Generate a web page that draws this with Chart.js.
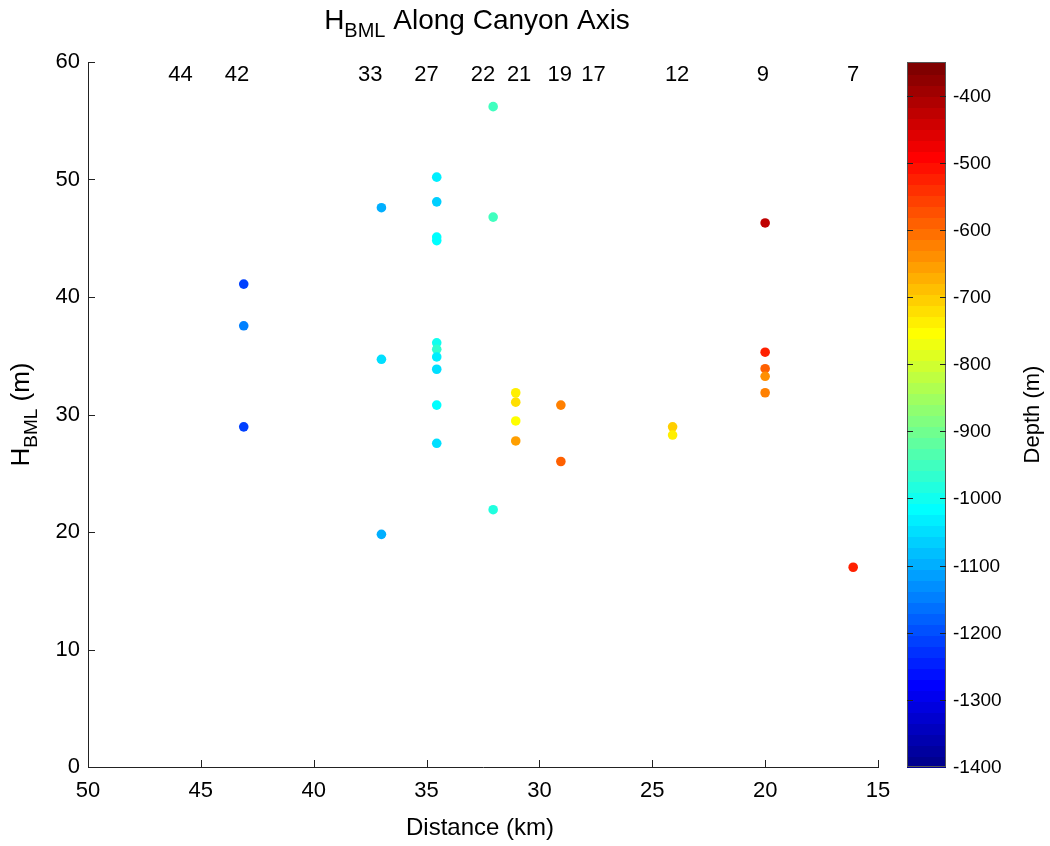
<!DOCTYPE html>
<html>
<head>
<meta charset="utf-8">
<title>HBML Along Canyon Axis</title>
<script src="https://cdn.jsdelivr.net/npm/chart.js@4.4.1/dist/chart.umd.min.js"></script>
<style>
  html, body { margin: 0; padding: 0; background: #fff; }
  #wrap { width: 1050px; height: 846px; }
</style>
</head>
<body>
<div id="wrap"><canvas id="hbmlChart" width="1050" height="846"></canvas></div>
<script>
// Bottom mixed layer thickness at each cast: along-axis distance (km), H_BML (m), cast depth (m)
const distanceKm = [
  43.1, 43.1, 43.1,
  37.0, 37.0, 37.0,
  34.55, 34.55, 34.55, 34.55, 34.55, 34.55, 34.55, 34.55, 34.55, 34.55,
  32.05, 32.05, 32.05,
  31.05, 31.05, 31.05, 31.05,
  29.05, 29.05,
  24.1, 24.1,
  20.0, 20.0, 20.0, 20.0, 20.0,
  16.1
];
const hbmlM = [
  41.1, 37.55, 28.95,
  47.6, 34.7, 19.8,
  50.2, 48.1, 45.1, 44.8, 36.1, 35.55, 34.9, 33.85, 30.8, 27.55,
  56.2, 46.8, 21.9,
  31.85, 31.05, 29.45, 27.75,
  30.8, 26.0,
  28.95, 28.25,
  46.3, 35.3, 33.9, 33.25, 31.85,
  17.0
];
const depthM = [
  -1215, -1140, -1205,
  -1100, -1055, -1095,
  -1030, -1060, -1020, -1015, -990, -970, -1030, -1055, -1010, -1055,
  -950, -950, -975,
  -736, -720, -745, -654,
  -621, -588,
  -710, -740,
  -424, -520, -588, -637, -621,
  -520
];

// Station numbers written along the top of the axes
const stationIds = ['44', '42', '33', '27', '22', '21', '19', '17', '12', '9', '7'];
const stationKm = [45.9, 43.4, 37.5, 35.0, 32.5, 30.9, 29.1, 27.6, 23.9, 20.1, 16.1];

// Colour scale for depth
const depthLimits = [-1400, -350];
const depthTicks = [-1400, -1300, -1200, -1100, -1000, -900, -800, -700, -600, -500, -400];

const FONT = "'Liberation Sans', Arial, Helvetica, sans-serif";

// MATLAB-style jet colormap with m rows
function jetColormap(m) {
  const n = Math.ceil(m / 4);
  const u = [];
  for (let k = 1; k <= n; k++) u.push(k / n);
  for (let k = 1; k < n; k++) u.push(1);
  for (let k = n; k >= 1; k--) u.push(k / n);
  const g0 = Math.ceil(n / 2) - (m % 4 === 1 ? 1 : 0);
  const map = Array.from({ length: m }, () => [0, 0, 0]);
  u.forEach((val, k) => {
    const g = g0 + k + 1;
    const r = g + n;
    const b = g - n;
    if (r <= m) map[r - 1][0] = val;
    if (g <= m) map[g - 1][1] = val;
    if (b >= 1) map[b - 1][2] = val;
  });
  return map;
}

const JET = jetColormap(64);

function rgbOf(row) {
  return 'rgb(' + row.map(v => Math.round(v * 255)).join(',') + ')';
}

function depthColor(d) {
  const [lo, hi] = depthLimits;
  let idx = Math.floor((d - lo) / (hi - lo) * JET.length);
  idx = Math.max(0, Math.min(JET.length - 1, idx));
  return rgbOf(JET[idx]);
}

// Draws text made of normal and subscript pieces, centred on x
function drawSubscripted(ctx, parts, x, y, size) {
  const subSize = Math.round(size * 0.72);
  let total = 0;
  parts.forEach(p => {
    ctx.font = (p.sub ? subSize : size) + 'px ' + FONT;
    p.w = ctx.measureText(p.text).width;
    total += p.w;
  });
  let cx = x - total / 2;
  ctx.textAlign = 'left';
  ctx.textBaseline = 'alphabetic';
  parts.forEach(p => {
    ctx.font = (p.sub ? subSize : size) + 'px ' + FONT;
    ctx.fillText(p.text, cx, p.sub ? y + size * 0.3 : y);
    cx += p.w;
  });
}

const decorations = {
  id: 'decorations',
  afterDraw(chart) {
    const ctx = chart.ctx;
    const area = chart.chartArea;
    const xs = chart.scales.x;
    const ys = chart.scales.y;
    ctx.save();

    // inward tick marks
    ctx.strokeStyle = '#222';
    ctx.lineWidth = 1;
    ctx.beginPath();
    xs.ticks.forEach(t => {
      const px = Math.round(xs.getPixelForValue(t.value)) + 0.5;
      ctx.moveTo(px, area.bottom);
      ctx.lineTo(px, area.bottom - 7);
    });
    ys.ticks.forEach(t => {
      const py = Math.round(ys.getPixelForValue(t.value)) + 0.5;
      ctx.moveTo(area.left, py);
      ctx.lineTo(area.left + 7, py);
    });
    ctx.stroke();

    // station numbers
    ctx.fillStyle = '#000';
    ctx.font = '22px ' + FONT;
    ctx.textAlign = 'center';
    ctx.textBaseline = 'middle';
    stationIds.forEach((id, i) => {
      ctx.fillText(id, xs.getPixelForValue(stationKm[i]), 75);
    });

    // title
    drawSubscripted(ctx, [
      { text: 'H' },
      { text: 'BML', sub: true },
      { text: ' Along Canyon Axis' }
    ], 477, 29, 28);

    // x axis title
    ctx.font = '24px ' + FONT;
    ctx.textAlign = 'center';
    ctx.textBaseline = 'middle';
    ctx.fillText('Distance (km)', (area.left + area.right) / 2 - 3, 828);

    // y axis title
    ctx.save();
    ctx.translate(29, (area.top + area.bottom) / 2);
    ctx.rotate(-Math.PI / 2);
    drawSubscripted(ctx, [
      { text: 'H' },
      { text: 'BML', sub: true },
      { text: ' (m)' }
    ], 0, 0, 26);
    ctx.restore();

    // colour bar
    const cbLeft = 907, cbRight = 946;
    const cbTop = area.top, cbBottom = area.bottom;
    const [lo, hi] = depthLimits;
    const toPx = v => cbBottom - (v - lo) / (hi - lo) * (cbBottom - cbTop);
    const step = (cbBottom - cbTop) / JET.length;
    JET.forEach((row, i) => {
      ctx.fillStyle = rgbOf(row);
      const y0 = cbBottom - (i + 1) * step;
      ctx.fillRect(cbLeft, Math.floor(y0), cbRight - cbLeft, Math.ceil(step) + 1);
    });
    ctx.strokeStyle = '#555';
    ctx.strokeRect(cbLeft + 0.5, cbTop + 0.5, cbRight - cbLeft - 1, cbBottom - cbTop - 1);

    ctx.strokeStyle = '#222';
    ctx.fillStyle = '#000';
    ctx.font = '19px ' + FONT;
    ctx.textAlign = 'left';
    ctx.textBaseline = 'middle';
    ctx.beginPath();
    depthTicks.forEach(v => {
      const py = Math.round(toPx(v)) + 0.5;
      if (v !== lo) {
        ctx.moveTo(cbLeft, py);
        ctx.lineTo(cbLeft + 6, py);
        ctx.moveTo(cbRight, py);
        ctx.lineTo(cbRight - 6, py);
      }
      ctx.fillText(String(v), 953, py);
    });
    ctx.stroke();

    ctx.save();
    ctx.translate(1033, (cbTop + cbBottom) / 2);
    ctx.rotate(-Math.PI / 2);
    ctx.font = '22px ' + FONT;
    ctx.textAlign = 'center';
    ctx.textBaseline = 'middle';
    ctx.fillText('Depth (m)', 0, 0);
    ctx.restore();

    ctx.restore();
  }
};

Chart.defaults.font.family = FONT;
Chart.defaults.color = '#000';

new Chart(document.getElementById('hbmlChart'), {
  type: 'scatter',
  data: {
    datasets: [{
      data: distanceKm.map((x, i) => ({ x: x, y: hbmlM[i] })),
      backgroundColor: depthM.map(depthColor),
      borderWidth: 0,
      pointRadius: 4.8,
      pointHoverRadius: 4.8
    }]
  },
  options: {
    responsive: false,
    animation: false,
    devicePixelRatio: 1,
    layout: { padding: { top: 62, right: 172, bottom: 0, left: 0 } },
    plugins: {
      legend: { display: false },
      tooltip: { enabled: false },
      title: { display: false }
    },
    scales: {
      x: {
        type: 'linear',
        reverse: true,
        min: 15,
        max: 50,
        ticks: { stepSize: 5, font: { size: 22 }, padding: 11, maxRotation: 0 },
        grid: { display: false, drawTicks: false },
        border: { display: true, color: '#222', width: 1 },
        afterFit(scale) { scale.height = 79; }
      },
      y: {
        type: 'linear',
        min: 0,
        max: 60,
        ticks: { stepSize: 10, font: { size: 22 }, padding: 8 },
        grid: { display: false, drawTicks: false },
        border: { display: true, color: '#222', width: 1 },
        afterFit(scale) { scale.width = 88; }
      }
    }
  },
  plugins: [decorations]
});
</script>
</body>
</html>
